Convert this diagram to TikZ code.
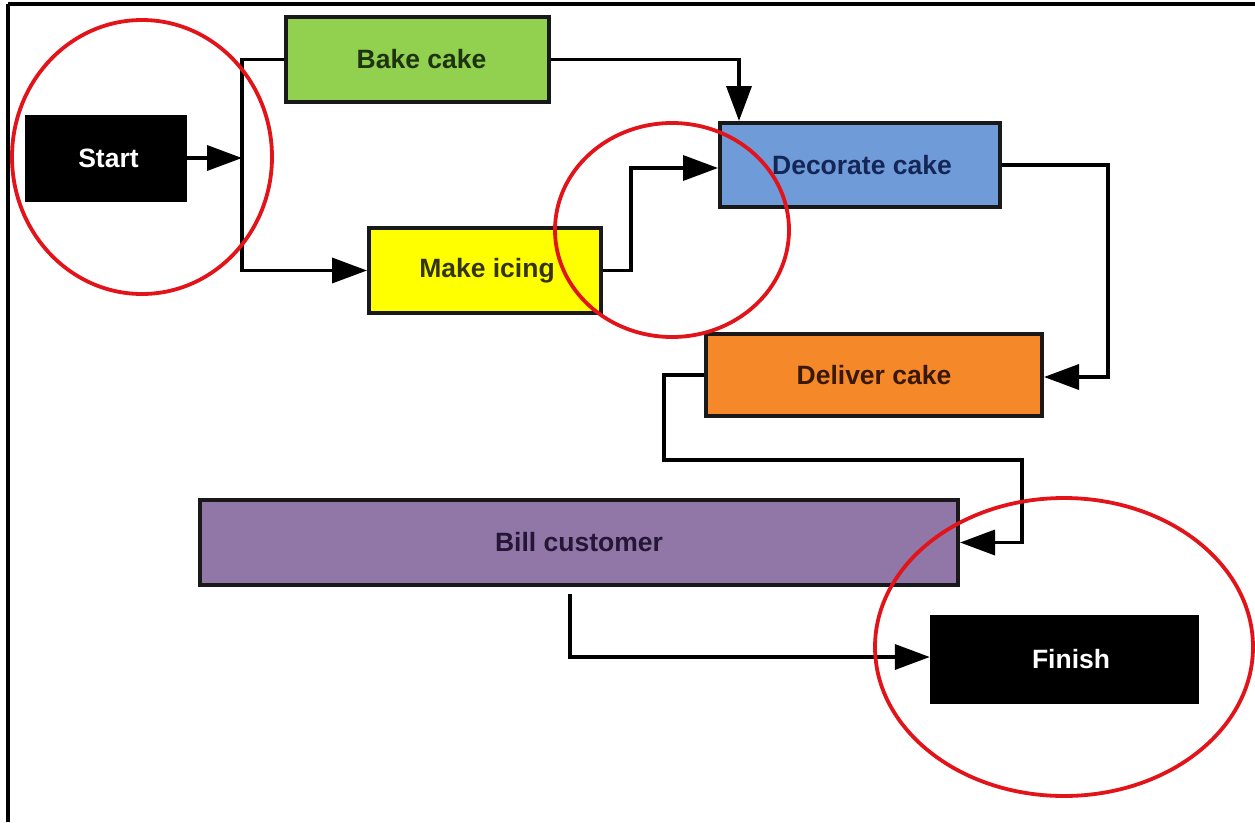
\documentclass[tikz,border=0pt]{standalone}
\usepackage{fontspec}
\setmainfont{Liberation Sans}
\usetikzlibrary{arrows.meta,calc}

\definecolor{bakegreen}{RGB}{146,208,80}
\definecolor{icingyellow}{RGB}{255,255,0}
\definecolor{decoblue}{RGB}{111,155,217}
\definecolor{delivorange}{RGB}{245,137,42}
\definecolor{billpurple}{RGB}{144,119,168}
\definecolor{ringred}{RGB}{226,20,26}
\definecolor{txtgreen}{RGB}{30,52,16}
\definecolor{txtolive}{RGB}{52,52,14}
\definecolor{txtblue}{RGB}{20,38,86}
\definecolor{txtbrown}{RGB}{58,24,8}
\definecolor{txtpurple}{RGB}{36,22,52}

\tikzset{
  task/.style={draw=black!90, line width=4pt, inner sep=0pt,
               font=\fontsize{26.5}{30}\selectfont\bfseries},
  terminal/.style={fill=black, draw=black, inner sep=0pt, text=white,
               font=\fontsize{26.5}{30}\selectfont\bfseries},
  flow/.style={line width=3.6pt, draw=black, line join=miter,
               -{Triangle[length=35pt,width=25pt]}},
  link/.style={line width=3.6pt, draw=black},
  ring/.style={draw=ringred, line width=3.8pt},
  frameline/.style={line width=3.5pt, draw=black}
}

\begin{document}
\begin{tikzpicture}[x=1pt,y=-1pt]
\useasboundingbox (0,0) rectangle (1255,822);

% outer frame (top and left edges)
\draw[frameline] (8,4) -- (1255,4);
\draw[frameline] (8,4) -- (8,822);

% activities
\node[terminal, minimum width=161pt, minimum height=86pt] (start) at (105.5,158) {\hspace*{6pt}Start};
\node[task, fill=bakegreen, text=txtgreen, minimum width=263pt, minimum height=85pt] (bake) at (417.5,59.5) {\hspace*{8pt}Bake cake};
\node[task, fill=icingyellow, text=txtolive, minimum width=232pt, minimum height=85pt] (icing) at (485,270.5) {\hspace*{4pt}Make icing};
\node[task, fill=decoblue, text=txtblue, minimum width=280pt, minimum height=84pt] (decorate) at (860,165) {\hspace*{4pt}Decorate cake};
\node[task, fill=delivorange, text=txtbrown, minimum width=336pt, minimum height=82pt] (deliver) at (874,375) {Deliver cake};
\node[task, fill=billpurple, text=txtpurple, minimum width=758pt, minimum height=85pt] (bill) at (579,542.5) {Bill customer};
\node[terminal, minimum width=268pt, minimum height=88pt] (finish) at (1064,659) {\hspace*{14pt}Finish};

% routing points
\coordinate (split) at (242,158);
\coordinate (c1) at (664,460);
\coordinate (c2) at (1022,460);

% connectors
\draw[flow] (start.east) -- (split);
\draw[link] (bake.west) -| (split);
\draw[flow] (split) |- (icing.west);
\draw[flow] (bake.east) -| ($(decorate.north west)+(21,0)$);
\draw[flow] (icing.east) -- ++(28,0) |- ($(decorate.west)+(0,3)$);
\draw[flow] (decorate.east) -- ++(106,0) |- ($(deliver.east)+(0,2)$);
\draw[flow] (deliver.west) -| (c1) -- (c2) |- (bill.east);
\draw[flow] ($(bill.south)+(-9,7)$) |- ($(finish.west)+(0,-2)$);

% highlight rings
\draw[ring] (142,157) ellipse [x radius=130pt, y radius=137pt];
\draw[ring] (672,230) ellipse [x radius=117pt, y radius=107pt];
\draw[ring] (1064,647) ellipse [x radius=189pt, y radius=149pt];
\end{tikzpicture}
\end{document}
